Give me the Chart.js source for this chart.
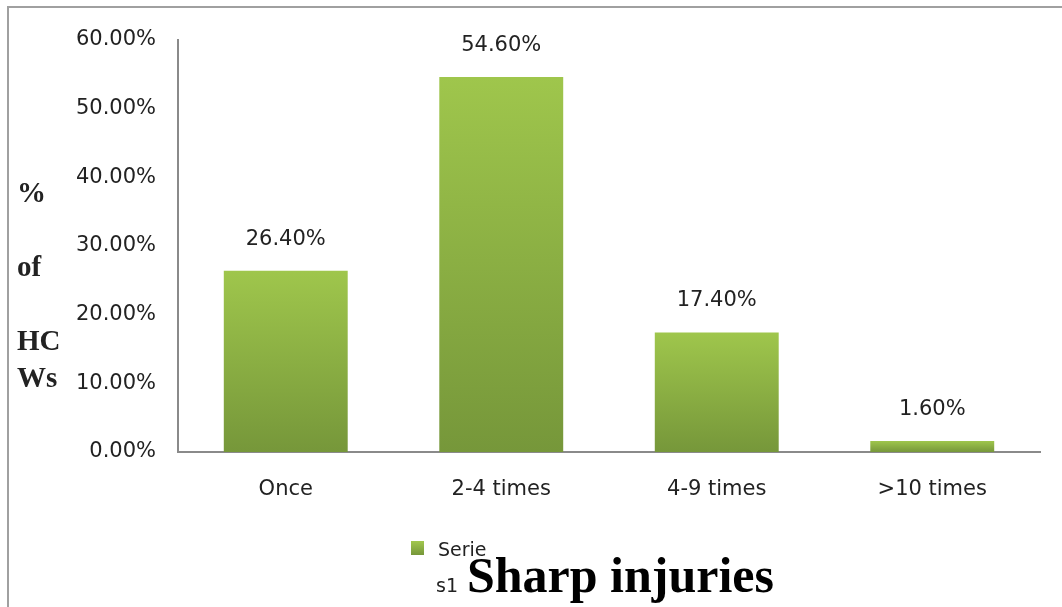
<!DOCTYPE html>
<html>
<head>
<meta charset="utf-8">
<script src="https://cdn.jsdelivr.net/npm/chart.js@4"></script>
<style>
  html, body { margin: 0; padding: 0; background: #fff; }
  #wrap { position: relative; width: 1062px; height: 607px; overflow: hidden; }
  #frame { position: absolute; left: 7px; top: 6px; width: 1062px; height: 610px;
           border-left: 2px solid #a0a0a0; border-top: 2px solid #a0a0a0; }
  canvas { position: absolute; left: 0; top: 0; }
</style>
</head>
<body>
<div id="wrap">
  <div id="frame"></div>
  <canvas id="c" width="1062" height="607"></canvas>
</div>
<script>
const categories = ['Once', '2-4 times', '4-9 times', '>10 times'];
const seriesName = 'Series1';
const values = [0.264, 0.546, 0.174, 0.016];
const valueLabels = ['26.40%', '54.60%', '17.40%', '1.60%'];
const yTitleLines = ['%', '', 'of', '', 'HC', 'Ws'];
const chartTitle = 'Sharp injuries';

const tickFont = { family: 'DejaVu Sans', size: 21 };
const textColor = '#222';

function barGradient(ctx) {
  const chart = ctx.chart;
  const area = chart.chartArea;
  if (!area || ctx.type !== 'data') return '#8db245';
  const ys = chart.scales.y;
  const top = ys.getPixelForValue(ctx.raw);
  const bottom = ys.getPixelForValue(0);
  const g = chart.ctx.createLinearGradient(0, top, 0, Math.max(bottom, top + 1));
  g.addColorStop(0, '#9fc64c');
  g.addColorStop(1, '#76973a');
  return g;
}

const decorPlugin = {
  id: 'decor',
  afterDatasetsDraw(chart) {
    const c = chart.ctx;
    const area = chart.chartArea;
    const meta = chart.getDatasetMeta(0);
    c.save();
    // value labels
    c.font = tickFont.size + 'px ' + tickFont.family;
    c.fillStyle = textColor;
    c.textAlign = 'center';
    c.textBaseline = 'bottom';
    meta.data.forEach((bar, i) => {
      c.fillText(valueLabels[i], bar.x, bar.y - 21);
    });
    // y-axis title (horizontal lines)
    c.font = 'bold 29px "Liberation Serif"';
    c.textAlign = 'left';
    c.textBaseline = 'middle';
    const lh = 37;
    const y0 = area.top + 155;
    yTitleLines.forEach((t, i) => {
      if (t) c.fillText(t, 17, y0 + i * lh);
    });
    // legend
    const lx = area.left + 233;
    const ly = area.bottom + 89;
    const lg = c.createLinearGradient(0, ly, 0, ly + 14);
    lg.addColorStop(0, '#a2c84e');
    lg.addColorStop(1, '#76973a');
    c.fillStyle = lg;
    c.fillRect(lx, ly, 13, 14);
    c.fillStyle = textColor;
    c.font = '19px "DejaVu Sans"';
    c.textAlign = 'left';
    c.fillText(seriesName.slice(0, 5), lx + 27, ly + 10);
    c.fillText(seriesName.slice(5), lx + 25, ly + 46);
    // title
    c.font = 'bold 50px "Liberation Serif"';
    c.fillStyle = '#000';
    c.textAlign = 'left';
    c.fillText(chartTitle, lx + 56, ly + 38);
    c.restore();
  }
};

new Chart(document.getElementById('c'), {
  type: 'bar',
  data: {
    labels: categories,
    datasets: [{
      label: seriesName,
      data: values,
      backgroundColor: barGradient,
      borderWidth: 0,
      barPercentage: 0.575,
      categoryPercentage: 1.0
    }]
  },
  options: {
    responsive: false,
    animation: false,
    devicePixelRatio: 1,
    layout: { padding: { left: 0, top: 40, right: 22, bottom: 85 } },
    plugins: {
      legend: { display: false },
      title: { display: false },
      tooltip: { enabled: false }
    },
    scales: {
      x: {
        grid: { display: false },
        border: { display: true, color: '#8a8a8a', width: 2 },
        ticks: { font: tickFont, color: textColor, padding: 17, maxRotation: 0 },
        afterFit(scale) { scale.height = 70; }
      },
      y: {
        min: 0, max: 0.6,
        grid: { display: false },
        border: { display: true, color: '#8a8a8a', width: 2 },
        ticks: {
          stepSize: 0.1,
          font: tickFont, color: textColor, padding: 14,
          callback: v => (v * 100).toFixed(2) + '%'
        },
        afterFit(scale) { scale.width = 178; }
      }
    }
  },
  plugins: [decorPlugin]
});
</script>
</body>
</html>
